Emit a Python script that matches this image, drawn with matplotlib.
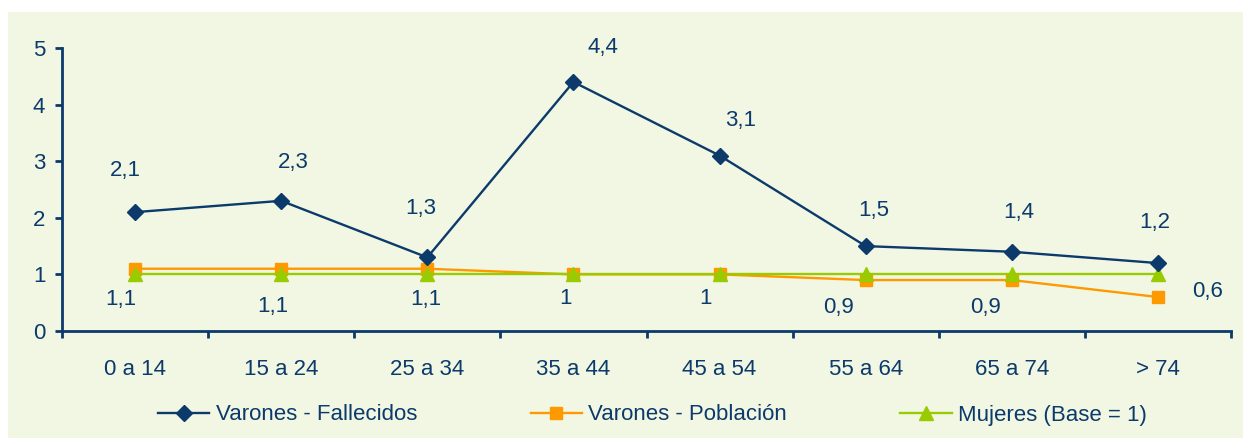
import matplotlib
matplotlib.use("Agg")
import matplotlib.pyplot as plt
from matplotlib.patches import Rectangle

categories = ["0 a 14", "15 a 24", "25 a 34", "35 a 44", "45 a 54", "55 a 64", "65 a 74", "> 74"]
fallecidos = [2.1, 2.3, 1.3, 4.4, 3.1, 1.5, 1.4, 1.2]
poblacion = [1.1, 1.1, 1.1, 1.0, 1.0, 0.9, 0.9, 0.6]
mujeres = [1, 1, 1, 1, 1, 1, 1, 1]
fallecidos_labels = ["2,1", "2,3", "1,3", "4,4", "3,1", "1,5", "1,4", "1,2"]
poblacion_labels = ["1,1", "1,1", "1,1", "1", "1", "0,9", "0,9", "0,6"]
yticks = [0, 1, 2, 3, 4, 5]

# label offsets in pixels (style)
fall_off = [(-10, 42), (12, 38), (-7, 49), (29, 34), (21, 35), (8, 36), (7, 39), (-3, 41)]
pob_off = [(-14, -31), (-8, -38), (-2, -31), (-8, -24), (-14, -24), (-27, -27), (-26, -27), (50, 6)]

navy = "#0b3a6b"
orange = "#ff9900"
green = "#99cc00"
bg = "#f2f7e3"
fs = 16

plt.rcParams['font.family'] = ['Liberation Sans', 'DejaVu Sans']

fig = plt.figure(figsize=(12.43, 4.38), dpi=100)
fig.patch.set_facecolor("white")
rect = Rectangle((8/1243, 0), 1 - 8/1243, 1 - 12/438, transform=fig.transFigure,
                 facecolor=bg, edgecolor="none", zorder=-10)
fig.add_artist(rect)

ax = fig.add_axes([62/1243, 1 - 331/438, (1231 - 62)/1243, (331 - 48)/438])
ax.set_facecolor("none")
ax.set_zorder(1)
x = list(range(len(categories)))

l1, = ax.plot(x, fallecidos, color=navy, lw=1.7, marker="D", ms=8.5, mfc=navy, mec=navy,
              zorder=5, label="Varones - Fallecidos", clip_on=False)
l2, = ax.plot(x, poblacion, color=orange, lw=1.7, marker="s", ms=9, mfc=orange, mec=orange,
              zorder=3, label="Varones - Población", clip_on=False)
l3, = ax.plot(x, mujeres, color=green, lw=1.7, marker="^", ms=10, mfc=green, mec=green,
              zorder=4, label="Mujeres (Base = 1)", clip_on=False)

for i in x:
    ax.annotate(fallecidos_labels[i], (i, fallecidos[i]), xytext=fall_off[i],
                textcoords="offset pixels", ha="center", va="center", fontsize=fs, color=navy)
    ax.annotate(poblacion_labels[i], (i, poblacion[i]), xytext=pob_off[i],
                textcoords="offset pixels", ha="center", va="center", fontsize=fs, color=navy)

ax.set_xlim(-0.5, len(categories) - 0.5)
ax.set_ylim(0, 5)
ax.set_yticks(yticks)
ax.set_yticklabels([str(v) for v in yticks])
ax.set_xticks([i - 0.5 for i in range(len(categories) + 1)])
ax.set_xticklabels([])
ax.set_xticks(x, minor=True)
ax.set_xticklabels(categories, minor=True)
ax.tick_params(axis="x", which="minor", length=0, pad=20, labelsize=fs, labelcolor=navy)
ax.tick_params(axis="x", which="major", length=5, width=2, color=navy, direction="out")
ax.tick_params(axis="y", length=5, width=2, color=navy, pad=7, labelsize=fs, labelcolor=navy)

for s in ["top", "right"]:
    ax.spines[s].set_visible(False)
for s in ["left", "bottom"]:
    ax.spines[s].set_color(navy)
    ax.spines[s].set_linewidth(2)

fig.legend(handles=[l1, l2, l3], loc="center", bbox_to_anchor=(0.525, 1 - 415/438), ncol=3,
           frameon=False, fontsize=fs, handlelength=2.3, handletextpad=0.3, columnspacing=5.1,
           labelcolor=navy)

fig.savefig("out.png", dpi=100, facecolor=fig.get_facecolor())
